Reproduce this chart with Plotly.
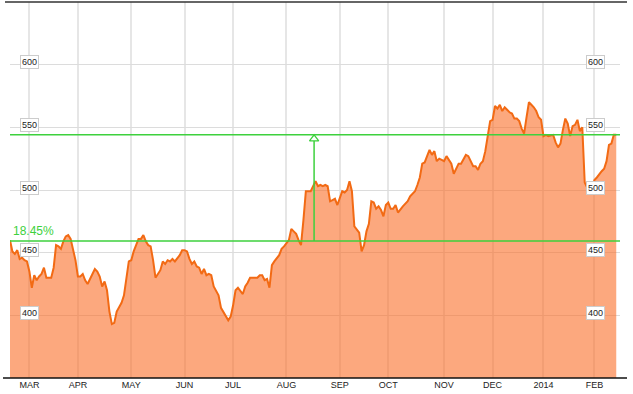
import plotly.graph_objects as go

# ---- data ----
# x = trading-day number counted from the first day shown (19 Feb 2013)
day_index = [0, 1, 2, 3, 4, 5, 6, 7, 8, 9, 10, 11, 12, 13, 14, 15, 17, 18, 19, 20,
             21, 22, 23, 24, 25, 26, 27, 28, 29, 30, 31, 32, 33, 35, 36, 37, 38, 39, 40, 41,
             42, 43, 44, 45, 46, 47, 48, 49, 50, 51, 53, 54, 55, 56, 57, 58, 59, 60, 61, 62,
             63, 64, 65, 66, 67, 68, 70, 71, 72, 73, 74, 75, 76, 77, 78, 79, 80, 81, 82, 83,
             84, 86, 87, 88, 89, 90, 91, 92, 93, 94, 96, 97, 98, 99, 100, 102, 103, 104, 105, 106,
             107, 108, 109, 111, 112, 113, 115, 116, 117, 118, 119, 120, 121, 122, 124, 125, 126, 127, 128, 129,
             130, 131, 132, 133, 134, 135, 136, 137, 138, 139, 140, 141, 142, 143, 144, 145, 146, 147, 148, 149,
             150, 151, 152, 153, 154, 155, 156, 157, 158, 159, 160, 162, 164, 165, 167, 168, 169, 170, 171, 172,
             173, 174, 175, 176, 177, 178, 179, 180, 181, 182, 183, 184, 185, 186, 188, 189, 190, 191, 192, 193,
             194, 195, 196, 197, 198, 199, 200, 201, 202, 203, 204, 205, 206, 207, 208, 209, 210, 211, 212, 213,
             214, 215, 216, 217, 218, 219, 220, 221, 222, 224, 225, 226, 227, 228, 229, 230, 231, 232, 233, 234,
             235, 236, 237, 238, 239, 240, 241, 242, 243, 244, 245, 246, 247, 248, 249, 250]
close = [460, 451, 449, 452, 445, 446, 444, 443, 435, 422, 432, 428, 431, 433, 438, 430, 430, 438, 456, 455,
         453, 459, 463, 464, 461, 453, 444, 431, 431, 433, 428, 425, 429, 437, 435, 431, 423, 427, 420, 403,
         393, 394, 403, 407, 410, 416, 431, 443, 444, 451, 461, 461, 464, 459, 456, 455, 444, 430, 433, 436,
         443, 441, 444, 443, 445, 443, 448, 452, 452, 451, 445, 441, 443, 439, 438, 433, 437, 432, 433, 432,
         423, 416, 406, 403, 399, 396, 399, 408, 420, 422, 417, 423, 426, 430, 430, 430, 432, 432, 428, 429,
         422, 440, 443, 448, 453, 455, 460, 469, 467, 465, 460, 456, 476, 499, 499, 503, 507, 503, 504, 503,
         504, 503, 491, 492, 493, 488, 493, 499, 498, 500, 507, 499, 471, 468, 466, 451, 456, 467, 473, 491,
         490, 485, 487, 484, 479, 488, 490, 485, 485, 488, 482, 487, 491, 495, 499, 504, 510, 521, 522, 527,
         532, 528, 531, 523, 525, 524, 523, 527, 524, 521, 513, 517, 521, 521, 528, 527, 523, 519, 519, 516,
         521, 523, 531, 543, 555, 556, 567, 565, 568, 563, 566, 564, 562, 561, 557, 557, 555, 549, 545, 558,
         570, 568, 566, 563, 558, 556, 543, 544, 543, 544, 538, 534, 537, 548, 557, 553, 543, 551, 552, 556,
         547, 550, 506, 502, 501, 501, 508, 510, 513, 515, 517, 523, 536, 537, 544, 544]

month_ticks = [8, 28, 50, 72, 92, 114, 136, 156, 179, 199, 220, 241]
month_labels = ["MAR", "APR", "MAY", "JUN", "JUL", "AUG", "SEP", "OCT", "NOV", "DEC", "2014", "FEB"]
price_ticks = [400, 450, 500, 550, 600]

ref_start = 459.3      # level of the first close (lower green line)
ref_end = 544.0        # level of the last close (upper green line)
change_label = "18.45%"
arrow_day = 125.4

# ---- styles ----
GREEN = "#3dd13d"
LINE = "#f26a14"
FILL = "rgba(250,110,40,0.6)"
FONT = "Arial, Liberation Sans, sans-serif"

x_range = [0, 251.55]
y_range = [350, 650]
plot_l, plot_r = 10, 13
plot_w = 633 - plot_l - plot_r

fig = go.Figure()

fig.add_trace(go.Scatter(
    x=day_index, y=close, mode="lines",
    line=dict(color=LINE, width=2),
    fill="tozeroy", fillcolor=FILL,
    hoverinfo="skip", showlegend=False,
))

# vertical change arrow
tri_offset = 3.2
fig.add_trace(go.Scatter(
    x=[arrow_day, arrow_day], y=[ref_start, ref_end - tri_offset - 1.5],
    mode="lines", line=dict(color=GREEN, width=1.5),
    hoverinfo="skip", showlegend=False,
))
fig.add_trace(go.Scatter(
    x=[arrow_day], y=[ref_end - tri_offset], mode="markers",
    marker=dict(symbol="triangle-up", size=8, color="white",
                line=dict(color=GREEN, width=1.3)),
    hoverinfo="skip", showlegend=False,
))

shapes = [
    dict(type="line", xref="paper", yref="y", x0=0, x1=1, y0=ref_start, y1=ref_start,
         line=dict(color=GREEN, width=1.5), layer="above"),
    dict(type="line", xref="paper", yref="y", x0=0, x1=1, y0=ref_end, y1=ref_end,
         line=dict(color=GREEN, width=1.5), layer="above"),
    dict(type="line", xref="paper", yref="paper", x0=(5 - plot_l) / plot_w, x1=(627 - plot_l) / plot_w,
         y0=1, y1=1, line=dict(color="#333333", width=1.5), layer="above"),
    dict(type="line", xref="paper", yref="paper", x0=(3 - plot_l) / plot_w, x1=(627 - plot_l) / plot_w,
         y0=0, y1=0, line=dict(color="#111111", width=1.5), layer="above"),
]

annotations = []
for p in price_ticks:
    for xc in (29.5, 595):
        annotations.append(dict(
            xref="paper", yref="y", x=(xc - plot_l) / plot_w, y=p, yshift=2.5,
            xanchor="center", yanchor="middle", text=str(p), showarrow=False,
            font=dict(family=FONT, size=9, color="#222222"),
            bgcolor="white", bordercolor="#cccccc", borderwidth=1, borderpad=1,
        ))
annotations.append(dict(
    xref="paper", yref="y", x=(12 - plot_l) / plot_w, y=ref_start, yshift=2,
    xanchor="left", yanchor="bottom", text=change_label, showarrow=False,
    font=dict(family=FONT, size=12, color=GREEN), borderpad=0,
))

fig.update_layout(
    width=633, height=394,
    margin=dict(l=plot_l, r=plot_r, t=2, b=16, pad=0, autoexpand=False),
    paper_bgcolor="white", plot_bgcolor="white",
    showlegend=False, hovermode=False,
    shapes=shapes, annotations=annotations,
    xaxis=dict(range=x_range, tickmode="array", tickvals=month_ticks, ticktext=month_labels,
               showgrid=True, gridcolor="#e6e6e6", gridwidth=2, zeroline=False,
               showline=False, ticks="", tickfont=dict(family=FONT, size=9, color="#222222"),
               fixedrange=True, automargin=False),
    yaxis=dict(range=y_range, tickmode="array", tickvals=price_ticks, showticklabels=False,
               showgrid=True, gridcolor="#dcdcdc", gridwidth=1, zeroline=False,
               showline=False, ticks="", fixedrange=True, automargin=False),
)

fig.write_html("out.html", config={"displayModeBar": False},
               post_script="document.body.style.margin='0';document.body.style.overflow='hidden';")
